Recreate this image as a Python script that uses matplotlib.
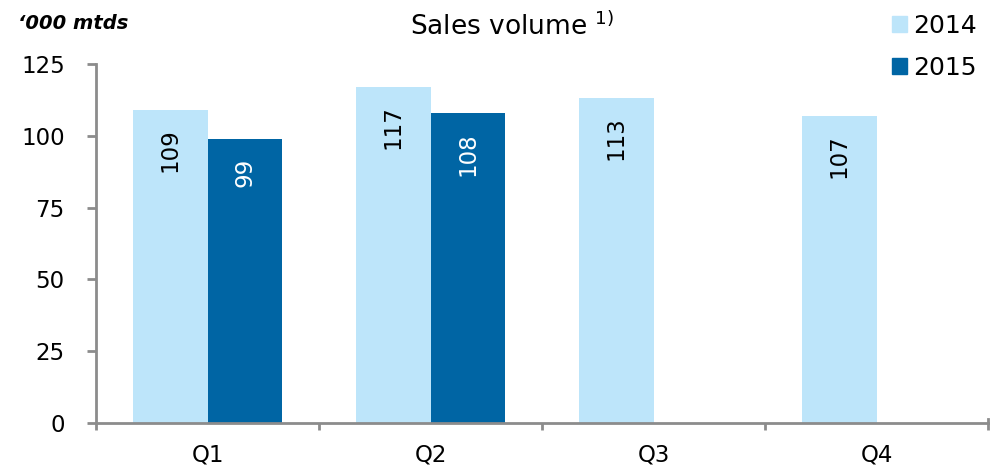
import matplotlib
matplotlib.use("Agg")
import matplotlib.pyplot as plt
import numpy as np
from matplotlib.patches import Patch

plt.rcParams['font.family'] = ['DejaVu Sans']

categories = ["Q1", "Q2", "Q3", "Q4"]
sales_2014 = [109, 117, 113, 107]
sales_2015 = [99, 108, None, None]
yticks = [0, 25, 50, 75, 100, 125]

c14 = "#BDE5FA"
c15 = "#0065A4"
gray = "#8C8C8C"

fig = plt.figure(figsize=(9.96, 4.73), dpi=100)
ax = fig.add_axes([96/996, 1-423/473, (988-96)/996, (423-64)/473])

x = np.arange(len(categories))
w = 1/3
ax.bar(x - w/2, sales_2014, width=w, color=c14, edgecolor='none')
x15 = [xi for xi, v in zip(x, sales_2015) if v is not None]
v15 = [v for v in sales_2015 if v is not None]
ax.bar(np.array(x15) + w/2, v15, width=w, color=c15, edgecolor='none')

for xi, v in zip(x, sales_2014):
    ax.annotate(str(v), (xi - w/2, v), xytext=(0, -13), textcoords='offset points',
                rotation=90, ha='center', va='top', fontsize=16.5, color='black')
for xi, v in zip(x15, v15):
    ax.annotate(str(v), (xi + w/2, v), xytext=(0, -14), textcoords='offset points',
                rotation=90, ha='center', va='top', fontsize=16.5, color='white')

ax.set_xlim(-0.5, len(categories) - 0.5)
ax.set_ylim(0, 125)
ax.set_yticks(yticks)
ax.set_yticklabels([str(t) for t in yticks], fontsize=16.5)
ax.set_xticks(x)
ax.set_xticklabels(categories, fontsize=16.5)
ax.set_xticks(np.arange(-0.5, len(categories)), minor=True)
ax.tick_params(axis='x', which='major', length=0, pad=15)
ax.tick_params(axis='x', which='minor', length=5, width=2, color=gray, direction='out')
ax.tick_params(axis='y', length=6.5, width=2, color=gray, pad=16)

for s in ['top', 'right']:
    ax.spines[s].set_visible(False)
for s in ['left', 'bottom']:
    ax.spines[s].set_color(gray)
    ax.spines[s].set_linewidth(2)

# right end tick of x axis (up)
ax.plot([len(categories) - 0.5] * 2, [0, 1.5], color=gray, lw=2, clip_on=False)

fig.text(18/996, 1-29/473, "\u2018000 mtds", fontsize=14, style='italic', fontweight='bold',
         ha='left', va='baseline')
fig.text(512/996, 1-35/473, "Sales volume $^{\\mathregular{1)}}$", fontsize=19,
         ha='center', va='baseline')

handles = [Patch(color=c14, label='2014'), Patch(color=c15, label='2015')]
fig.legend(handles=handles, loc='upper left', bbox_to_anchor=(882/996, 1.0 - 4/473), frameon=False,
           fontsize=18, handlelength=0.6, handleheight=0.6, handletextpad=0.25, labelspacing=0.72,
           borderaxespad=0)

fig.savefig("out.png", dpi=100)
